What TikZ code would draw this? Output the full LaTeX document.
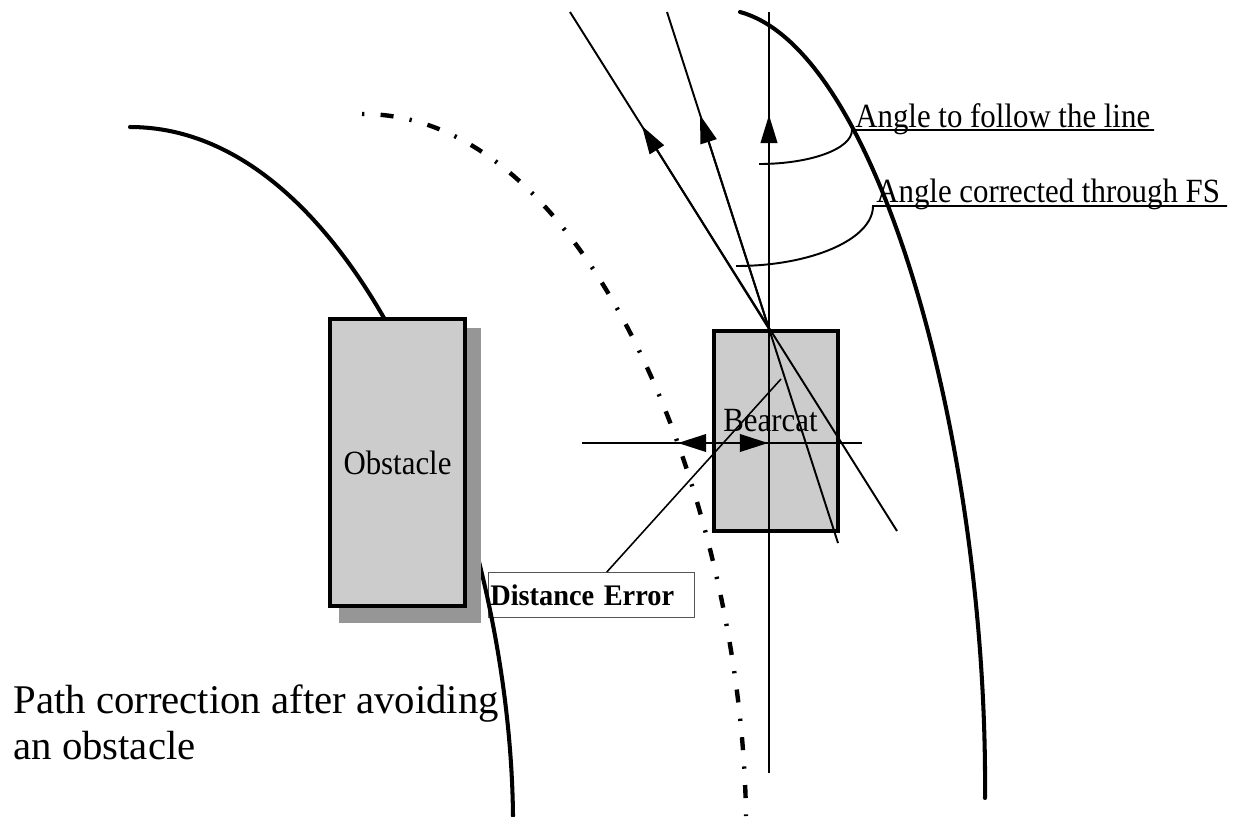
\documentclass[tikz,border=0pt]{standalone}
\usepackage{fontspec}
\setmainfont{Liberation Serif}
\usetikzlibrary{arrows.meta}
\definecolor{boxgray}{HTML}{CCCCCC}
\definecolor{shadowgray}{HTML}{969696}
\definecolor{framegray}{HTML}{555555}
\newcommand\condtext[2][0.91]{\scalebox{#1}[1]{#2}}
\begin{document}
\begin{tikzpicture}[x=0.02cm, y=-0.02cm,
  thickline/.style={line width=2.3pt},
  dashdot/.style={line width=2.5pt, dash pattern=on 1.3pt off 9.3pt on 7.4pt off 9.3pt},
  ray/.style={line width=1.1pt},
  tipend/.style={-{Triangle[length=16pt,width=9.5pt]}},
  bothtips/.style={{Triangle[length=16pt,width=10pt]}-{Triangle[length=16pt,width=10pt]}},
  blockbox/.style={draw, line width=2.2pt, fill=boxgray, inner sep=0pt},
  lbl/.style={font=\fontsize{19.3}{22}\selectfont, inner sep=0pt, anchor=base west},
  caption/.style={font=\fontsize{23.2}{26}\selectfont, inner sep=0pt, anchor=base west},
]
\useasboundingbox (0,0) rectangle (1244,816);

% distance error label box
\node[draw=framegray, line width=0.6pt, fill=white, anchor=north west,
      minimum height=0.9cm, text width=115pt, inner xsep=1pt, inner ysep=0pt,
      align=left, font=\bfseries\fontsize{17}{19}\selectfont] (de) at (488,572) {\condtext[0.95]{Distance Error}};

% road edges
\coordinate (lc0) at (130,127); \coordinate (lc1) at (513,816);
\draw[thickline, line cap=round] (lc0) .. controls (360,127) and (510,520) .. (lc1);
\coordinate (mc0) at (362,114); \coordinate (mc1) at (746,816);
\draw[dashdot] (mc0) .. controls (592,113) and (742,510) .. (mc1);
\coordinate (rc0) at (740,12); \coordinate (rc1) at (985,798);
\draw[thickline, line cap=round] (rc0) .. controls (880,50) and (988,450) .. (rc1);

% obstacle
\node[fill=shadowgray, inner sep=0pt, minimum width=2.84cm, minimum height=5.9cm] (shadow) at (410,475.5) {};
\node[blockbox, minimum width=2.7cm, minimum height=5.74cm, font=\fontsize{19.3}{22}\selectfont] (obst) at (397.5,462.5) {\condtext{Obstacle}};

% bearcat
\node[blockbox, minimum width=2.48cm, minimum height=4cm] (bear) at (776,431) {};
\node[lbl] (bearlbl) at (723,431) {\condtext{Bearcat}};

% rays
\coordinate (o) at (769,329);
\coordinate (l1top) at (570,12); \coordinate (l1bot) at (897,531); \coordinate (l1tip) at (642,126);
\coordinate (l2top) at (667,12); \coordinate (l2bot) at (838,543); \coordinate (l2tip) at (700,115);
\coordinate (vtop) at (769,12); \coordinate (vbot) at (769,773); \coordinate (vtip) at (769,115);
\draw[ray] (l1top) -- (l1bot);
\draw[ray] (l2top) -- (l2bot);
\draw[ray] (vtop) -- (vbot);
\draw[ray, tipend] (o) -- (l1tip);
\draw[ray, tipend] (o) -- (l2tip);
\draw[ray, tipend] (o) -- (vtip);

% horizontal reference and distance error arrows
\coordinate (hl) at (582,443); \coordinate (hr) at (862,443);
\draw[ray] (hl) -- (hr);
\coordinate (dl) at (678,443); \coordinate (dr) at (768,443);
\draw[ray, bothtips] (dl) -- (dr);

% leader to distance error box
\coordinate (ldend) at (781,379);
\draw[line width=0.9pt] ([xshift=0.31cm]de.north) -- (ldend);

% angle labels
\node[lbl] (a1) at (855,127) {\condtext{Angle to follow the line}};
\node[lbl] (a2) at (876,202) {\condtext{Angle corrected through FS}};
\coordinate (a1s) at (759,164); \coordinate (a1c) at (852,130); \coordinate (a1e) at (1154,130);
\coordinate (a2s) at (736,266); \coordinate (a2c) at (873,206); \coordinate (a2e) at (1227,206);
\draw[ray] (a1s) .. controls (810,164) and (852,149) .. (a1c) -- (a1e);
\draw[ray] (a2s) .. controls (812,266) and (873,239) .. (a2c) -- (a2e);

% caption
\node[caption] (cap1) at (13,713) {Path correction after avoiding};
\node[caption] (cap2) at (13,759) {an obstacle};
\end{tikzpicture}
\end{document}
